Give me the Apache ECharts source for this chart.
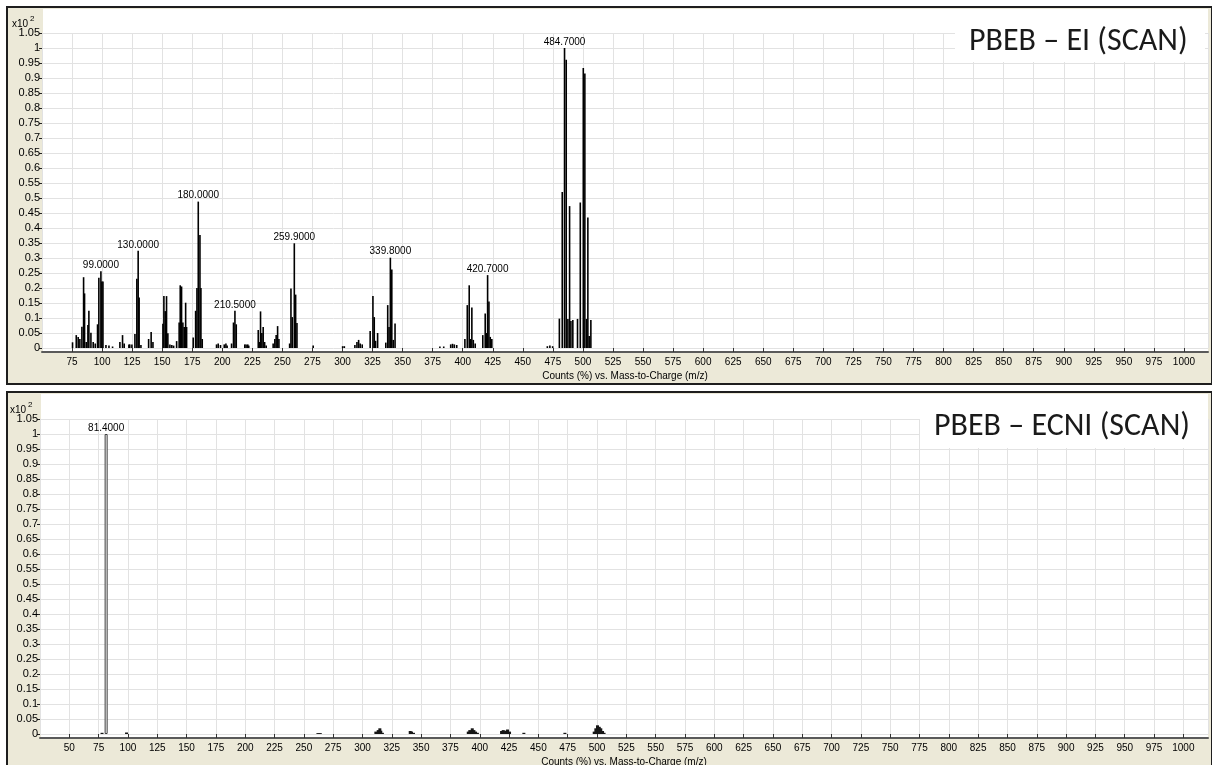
<!DOCTYPE html>
<html>
<head>
<meta charset="utf-8">
<script src="https://cdn.jsdelivr.net/npm/echarts@6/dist/echarts.min.js"></script>
<style>
html,body{margin:0;padding:0;background:#ffffff;}
#chart{width:1212px;height:765px;}
</style>
</head>
<body>
<div id="chart"></div>
<script>
// ---------- DATA ----------
// EI spectrum: m/z and relative counts (x10^2)
const eiMz = [
  75.4, 78.5, 80.1, 81.5, 83.2, 84.6, 85.4, 86.8, 88.2, 89.0, 90.7, 92.6, 94.3, 96.2, 97.3, 99.0, 99.8, 100.7, 103.2, 105.7, 108.7,
  114.8, 117.0, 118.4, 122.3, 123.0, 124.8, 127.3, 128.9, 130.0, 130.8, 132.3, 138.7, 140.8, 142.3,
  150.6, 151.4, 152.5, 153.6, 154.7, 156.4, 158.0, 159.5, 162.0, 164.1, 165.0, 166.1, 167.2, 168.3, 169.5, 170.3,
  175.8, 177.8, 178.9, 180.0, 181.4, 182.2, 183.3,
  195.2, 196.6, 198.5, 201.6, 203.0, 204.0,
  207.7, 209.3, 210.5, 211.6,
  218.7, 219.8, 221.2, 222.0,
  229.9, 231.0, 231.8, 232.9, 234.0, 235.2, 236.5,
  242.3, 243.7, 244.8, 246.0, 247.1,
  256.0, 257.1, 258.2, 259.9, 261.0, 262.1, 275.6,
  300.1, 301.5, 310.3, 312.0, 313.4, 314.7, 316.4,
  323.0, 325.3, 326.4, 327.5, 329.2,
  336.0, 337.6, 338.7, 339.8, 341.0, 342.2, 343.7,
  381.0, 384.2, 390.0, 391.5, 393.0, 395.0,
  401.8, 403.8, 405.4, 406.5, 407.6, 408.8, 410.4,
  416.7, 418.7, 419.6, 420.7, 421.8, 422.9, 424.2,
  470.4, 472.5, 474.8,
  480.4, 482.8, 484.7, 486.1, 487.5, 488.9, 490.0, 491.6, 495.5, 497.8, 500.3, 501.6, 503.0, 504.1, 505.2, 506.6
];
const eiInt = [
  0.019, 0.043, 0.037, 0.030, 0.071, 0.236, 0.182, 0.020, 0.077, 0.124, 0.051, 0.020, 0.015, 0.079, 0.234, 0.256, 0.222, 0.222, 0.010, 0.008, 0.005,
  0.020, 0.043, 0.015, 0.012, 0.012, 0.012, 0.047, 0.231, 0.324, 0.168, 0.010, 0.030, 0.053, 0.020,
  0.081, 0.173, 0.123, 0.173, 0.049, 0.012, 0.010, 0.008, 0.023, 0.085, 0.209, 0.205, 0.085, 0.070, 0.151, 0.070,
  0.035, 0.124, 0.200, 0.488, 0.377, 0.200, 0.030,
  0.012, 0.015, 0.010, 0.012, 0.015, 0.008,
  0.015, 0.085, 0.124, 0.079,
  0.012, 0.012, 0.012, 0.008,
  0.060, 0.020, 0.122, 0.050, 0.070, 0.020, 0.008,
  0.015, 0.030, 0.043, 0.073, 0.030,
  0.015, 0.198, 0.103, 0.349, 0.178, 0.083, 0.008,
  0.006, 0.006, 0.010, 0.020, 0.027, 0.015, 0.012,
  0.057, 0.173, 0.103, 0.024, 0.050,
  0.018, 0.143, 0.070, 0.301, 0.262, 0.027, 0.082,
  0.005, 0.005, 0.012, 0.014, 0.012, 0.010,
  0.030, 0.143, 0.209, 0.030, 0.135, 0.027, 0.015,
  0.043, 0.115, 0.050, 0.243, 0.155, 0.037, 0.030,
  0.006, 0.008, 0.006,
  0.098, 0.520, 1.000, 0.961, 0.097, 0.473, 0.090, 0.093, 0.097, 0.485, 0.933, 0.915, 0.097, 0.435, 0.040, 0.093
];
const eiLabeled = [99.0, 130.0, 180.0, 210.5, 259.9, 339.8, 420.7, 484.7];

// ECNI spectrum
const ecniMz = [
  77.9, 81.4, 98.8, 262.0, 264.0,
  311.4, 313.4, 314.8, 315.6, 317.0,
  340.7, 341.8, 343.5,
  390.2, 391.5, 393.6, 395.0, 396.4, 398.0,
  418.6, 420.0, 422.0, 423.7, 425.4,
  437.6, 472.6,
  497.6, 499.0, 500.4, 501.9, 503.2, 504.7, 506.0
];
const ecniInt = [
  0.004, 1.000, 0.005, 0.003, 0.003,
  0.008, 0.013, 0.019, 0.011, 0.004,
  0.010, 0.008, 0.004,
  0.008, 0.013, 0.019, 0.013, 0.008, 0.004,
  0.010, 0.013, 0.011, 0.015, 0.008,
  0.004, 0.004,
  0.008, 0.019, 0.029, 0.024, 0.019, 0.010, 0.004
];
const ecniLabeled = [81.4];

const panelTitles = ['PBEB \u2013 EI (SCAN)', 'PBEB \u2013 ECNI (SCAN)'];
const xAxisTitle = 'Counts (%) vs. Mass-to-Charge (m/z)';

// ---------- CHART ----------
const beige = '#ece9d8';
const FONT = '"Liberation Sans", Arial, sans-serif';
const TITLE_FONT = 'Carlito, Lato, "Open Sans", sans-serif';

function buildData(mz, it, labeled, special) {
  return mz.map((m, i) => {
    const d = { value: [m, it[i]] };
    if (labeled.indexOf(m) >= 0) d.label = { show: true };
    if (special && labeled.indexOf(m) >= 0) d.itemStyle = { color: '#ffffff', borderColor: '#3a3a3a', borderWidth: 1 };
    return d;
  });
}

const chart = echarts.init(document.getElementById('chart'), null, { renderer: 'canvas' });

function yAxisCfg(gi) {
  return {
    gridIndex: gi, type: 'value', min: 0, max: 1.05, interval: 0.05,
    axisLine: { show: false },
    axisTick: { show: true, length: 3, lineStyle: { color: '#222', width: 1 } },
    axisLabel: { fontSize: 11, color: '#000', fontFamily: FONT, margin: 2 },
    splitLine: { show: true, lineStyle: { color: '#e2e2e2', width: 1 } }
  };
}
function xAxisCfg(gi, min, max) {
  return {
    gridIndex: gi, type: 'value', min: min, max: max, interval: 25, offset: 4,
    axisLine: { show: true, onZero: false, lineStyle: { color: '#5a5a5a', width: 2 } },
    axisTick: { show: true, inside: true, length: 4, lineStyle: { color: '#333' } },
    axisLabel: { showMinLabel: false, showMaxLabel: false, fontSize: 10, color: '#000', fontFamily: FONT, margin: 5,
      formatter: v => (v % 25 === 0 ? String(v) : '') },
    splitLine: { show: true, lineStyle: { color: '#e2e2e2', width: 1 } },
    name: xAxisTitle, nameLocation: 'middle', nameGap: 19,
    nameTextStyle: { fontSize: 10, color: '#000', fontFamily: FONT }
  };
}
const labelCfg = {
  show: false, position: 'top', distance: 1, fontSize: 10, color: '#000', fontFamily: FONT,
  formatter: p => p.value[0].toFixed(4)
};

const option = {
  animation: false,
  backgroundColor: '#ffffff',
  grid: [
    { left: 42, top: 33, width: 1166, height: 315, containLabel: false, outerBoundsMode: 'none' },
    { left: 40, top: 419, width: 1168, height: 315, containLabel: false, outerBoundsMode: 'none' }
  ],
  xAxis: [xAxisCfg(0, 50, 1020), xAxisCfg(1, 25, 1021)],
  yAxis: [yAxisCfg(0), yAxisCfg(1)],
  series: [
    {
      type: 'bar', xAxisIndex: 0, yAxisIndex: 0, barWidth: 1.6,
      itemStyle: { color: '#000' }, label: labelCfg,
      data: buildData(eiMz, eiInt, eiLabeled, false), z: 3
    },
    {
      type: 'bar', xAxisIndex: 1, yAxisIndex: 1, barWidth: 3,
      itemStyle: { color: '#161616' }, label: labelCfg,
      data: buildData(ecniMz, ecniInt, ecniLabeled, true), z: 3
    }
  ],
  graphic: [
    // panel backgrounds and frames
    { type: 'rect', z: -20, shape: { x: 7, y: 7, width: 1205, height: 377 }, style: { fill: beige, stroke: '#1e1e1e', lineWidth: 2 } },
    { type: 'rect', z: -20, shape: { x: 7, y: 392, width: 1205, height: 380 }, style: { fill: beige, stroke: '#1e1e1e', lineWidth: 2 } },
    // white plot areas
    { type: 'rect', z: -19, shape: { x: 43, y: 9, width: 1165, height: 342 }, style: { fill: '#ffffff' } },
    { type: 'rect', z: -19, shape: { x: 41, y: 394, width: 1167, height: 344 }, style: { fill: '#ffffff' } },
    // x10^2 multipliers
    { type: 'text', z: 10, left: 12, top: 19, style: { text: 'x10', fontSize: 10, fill: '#000', fontFamily: FONT } },
    { type: 'text', z: 10, left: 30, top: 15, style: { text: '2', fontSize: 8, fill: '#000', fontFamily: FONT } },
    { type: 'text', z: 10, left: 10, top: 405, style: { text: 'x10', fontSize: 10, fill: '#000', fontFamily: FONT } },
    { type: 'text', z: 10, left: 28, top: 401, style: { text: '2', fontSize: 8, fill: '#000', fontFamily: FONT } },
    // title boxes
    { type: 'rect', z: 20, shape: { x: 955, y: 10, width: 250, height: 52 }, style: { fill: '#ffffff' } },
    { type: 'text', z: 21, style: { x: 969, y: 42, text: panelTitles[0], fontSize: 32, fill: '#1a1a1a', fontFamily: TITLE_FONT, verticalAlign: 'middle' } },
    { type: 'rect', z: 20, shape: { x: 920, y: 395, width: 288, height: 53 }, style: { fill: '#ffffff' } },
    { type: 'text', z: 21, style: { x: 934, y: 427, text: panelTitles[1], fontSize: 32, fill: '#1a1a1a', fontFamily: TITLE_FONT, verticalAlign: 'middle' } }
  ]
};
chart.setOption(option);
</script>
</body>
</html>
